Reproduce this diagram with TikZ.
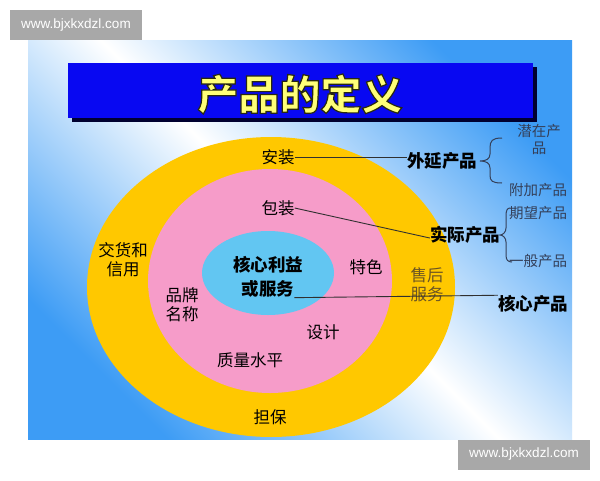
\documentclass[tikz,border=0pt]{standalone}
\usepackage{fontspec}
\setmainfont{Liberation Sans}
\newfontfamily\cjk{Noto Sans CJK SC}
\definecolor{bgblue}{HTML}{3D9CF5}
\definecolor{ringyellow}{HTML}{FFC800}
\definecolor{ringpink}{HTML}{F69CC9}
\definecolor{corecyan}{HTML}{62C6F2}
\definecolor{titleblue}{HTML}{0808F2}
\definecolor{titleshadow}{HTML}{000030}
\definecolor{titletext}{HTML}{FFFF78}
\definecolor{wmgray}{HTML}{A8A8A8}
\definecolor{subtext}{HTML}{34405A}
\definecolor{servtext}{HTML}{6A5424}
\definecolor{linecol}{HTML}{303030}
\newcommand{\outlinedtitle}[1]{\special{pdf:literal direct 0.16 0.16 0.06 RG 1.2 w 2 Tr}#1\special{pdf:literal direct 0 Tr}}
\begin{document}
\begin{tikzpicture}[x=1pt,y=-1pt,
  lbl/.style={font=\cjk\fontsize{16.5}{19}\selectfont, text=black, inner sep=0pt, align=center},
  corelbl/.style={font=\cjk\bfseries\fontsize{17.5}{20}\selectfont, text=black, inner sep=0pt, align=center},
  levellbl/.style={font=\cjk\bfseries\fontsize{17.5}{20}\selectfont, text=black, inner sep=0pt},
  sublbl/.style={font=\cjk\fontsize{14.5}{17}\selectfont, text=subtext, inner sep=0pt, align=center},
  titlefont/.style={font=\cjk\bfseries\fontsize{41}{44}\selectfont, inner sep=0pt},
  wm/.style={fill=wmgray, text=white, font=\fontsize{13.5}{15}\selectfont, minimum width=132pt, minimum height=30pt, inner sep=0pt},
  conn/.style={draw=linecol, line width=0.9pt},
  bracecol/.style={draw=subtext, line width=1pt}
]
\useasboundingbox (0,0) rectangle (600,480);
\fill[white] (0,0) rectangle (600,480);
% slide background
\shade[top color=bgblue, bottom color=bgblue, middle color=white, shading angle=135] (28,40) rectangle (572,439);
% rings
\begin{scope}
  \clip (28,40) rectangle (572,439);
  \fill[ringyellow] (271,287) ellipse [x radius=184pt, y radius=150pt];
  \fill[ringpink] (270,281) ellipse [x radius=122pt, y radius=112pt];
  \fill[corecyan] (268,273) ellipse [x radius=66pt, y radius=42pt];
\end{scope}
% title bar
\fill[titleshadow] (72,67) rectangle (537,122);
\fill[titleblue] (68,63) rectangle (533,118);
\node[titlefont, text=titletext] (title) at (300,94) {\outlinedtitle{产品的定义}};
% watermarks
\node[wm] (wm1) at (76,25) {www.bjxkxdzl.com};
\node[wm] (wm2) at (524,454.5) {www.bjxkxdzl.com};
% ring labels
\node[lbl] (anzhuang) at (278,157) {安装};
\node[lbl] (baozhuang) at (278,208) {包装};
\node[lbl] (jiaohuo) at (123,260) {交货和\\信用};
\node[corelbl] (hexinliyi) at (268,265) {核心利益};
\node[corelbl] (huofuwu) at (268,289) {或服务};
\node[lbl] (tese) at (366,267) {特色};
\node[lbl, text=servtext] (shouhou) at (427,285) {售后\\服务};
\node[lbl] (pinpai) at (182,305) {品牌\\名称};
\node[lbl] (sheji) at (323,332) {设计};
\node[lbl] (zhiliang) at (250,360) {质量水平};
\node[lbl] (danbao) at (270,417) {担保};
% level labels
\node[levellbl] (waiyan) at (442,161) {外延产品};
\node[levellbl] (shiji) at (465,235) {实际产品};
\node[levellbl] (hexin) at (533,304) {核心产品};
\node[sublbl] (qianzai) at (539,139) {潜在产\\品};
\node[sublbl] (fujia) at (538,190) {附加产品};
\node[sublbl] (qiwang) at (538,213) {期望产品};
\node[sublbl] (yiban) at (538,261) {一般产品};
% connectors
\draw[conn] (anzhuang.east) -- (waiyan.west |- anzhuang.east);
\draw[conn] (baozhuang.east) -- ([yshift=-3pt]shiji.west);
\draw[conn] (huofuwu.south east) -- (hexin.north west);
% braces
\coordinate (b1top) at (502,138);
\coordinate (b1tip) at (480,161);
\coordinate (b1bot) at (502,183);
\draw[bracecol] (b1top) .. controls (492,138) and (490,141) .. (490,148) -- (490,154)
  .. controls (490,159) and (486,161) .. (b1tip)
  .. controls (486,161) and (490,163) .. (490,168) -- (490,175)
  .. controls (490,181) and (492,183) .. (b1bot);
\coordinate (b2top) at (510,208);
\coordinate (b2tip) at (500,235);
\coordinate (b2bot) at (512,262);
\draw[bracecol] (b2top) .. controls (507,208) and (506,211) .. (506,216) -- (506,228)
  .. controls (506,232) and (503,235) .. (b2tip)
  .. controls (503,235) and (506,238) .. (506,242) -- (506,255)
  .. controls (506,260) and (508,262) .. (b2bot);
\end{tikzpicture}
\end{document}
